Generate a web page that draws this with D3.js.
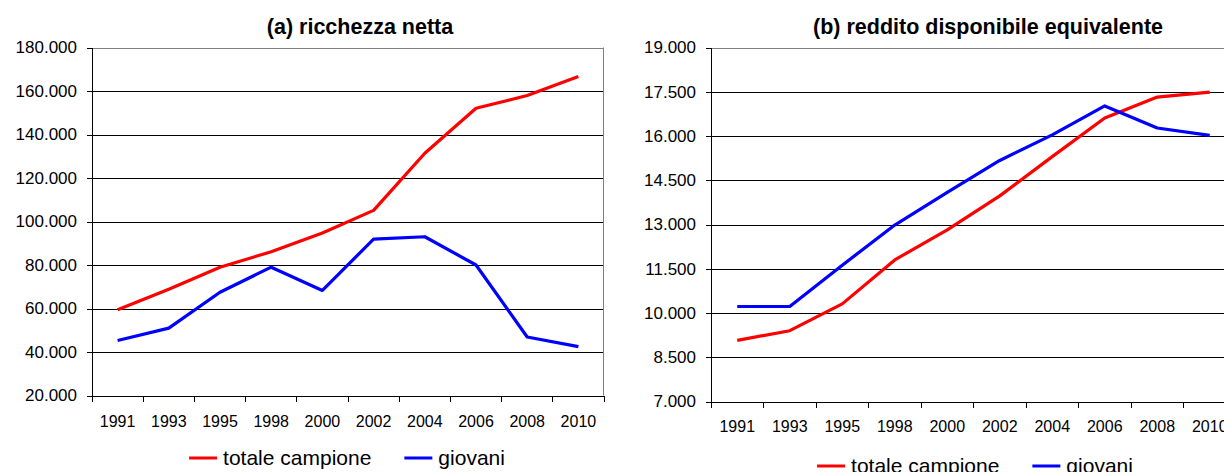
<!DOCTYPE html>
<html lang="en">
<head>
    <meta charset="UTF-8">
    <title>Ricchezza e reddito</title>
    <style>
        body { margin: 0; background: #fff; }
        svg { display: block; }
        text { font-family: "Liberation Sans", Arial, sans-serif; fill: #000; }
        .title { font-weight: bold; font-size: 21.5px; text-anchor: middle; }
        .y-axis text { font-size: 17px; }
        .x-axis text { font-size: 16px; }
        .legend text { font-size: 21px; }
        .grid line { stroke: #000; shape-rendering: crispEdges; }
        .series { fill: none; stroke-width: 3.2px; stroke-linejoin: round; }
    </style>
</head>
<body>
    <svg width="1224" height="472"></svg>

    <script src="https://d3js.org/d3.v7.min.js"></script>
    <script>
        // data
        const years = ["1991", "1993", "1995", "1998", "2000", "2002", "2004", "2006", "2008", "2010"];

        const ricchezzaTotale = [59400, 68900, 79000, 86100, 94700, 105100, 131400, 152100, 157900, 166700];
        const ricchezzaGiovani = [45300, 51000, 67500, 79000, 68300, 91900, 93000, 80000, 46900, 42500];
        const ricchezzaTicks = [20000, 40000, 60000, 80000, 100000, 120000, 140000, 160000, 180000];

        const redditoTotale = [9070, 9400, 10310, 11800, 12820, 13970, 15300, 16610, 17320, 17490];
        const redditoGiovani = [10220, 10220, 11620, 12980, 14090, 15170, 16040, 17020, 16270, 16020];
        const redditoTicks = [7000, 8500, 10000, 11500, 13000, 14500, 16000, 17500, 19000];

        const seriesNames = ["totale campione", "giovani"];
        const seriesColors = ["#ff0000", "#0000ff"];

        const itLocale = d3.formatLocale({ decimal: ",", thousands: ".", grouping: [3], currency: ["€", ""] });
        const fmt = itLocale.format(",.0f");

        const svg = d3.select("svg");

        function drawPanel(cfg) {
            const g = svg.append("g");

            const x = d3.scaleBand().domain(years).range([cfg.left, cfg.right]);
            const y = d3.scaleLinear().domain(cfg.domain).range([cfg.bottom, cfg.top]);

            // horizontal gridlines (top one is the grey plot border)
            g.append("g")
                .attr("class", "grid")
                .attr("transform", `translate(${cfg.left},0)`)
                .call(d3.axisLeft(y).tickValues(cfg.ticks).tickSize(-(cfg.right - cfg.left)).tickFormat(""))
                .call(s => s.select(".domain").remove())
                .call(s => s.selectAll(".tick").filter(d => d === cfg.domain[1]).select("line").style("stroke", "#808080"));

            // right border of the plot area
            g.append("line")
                .attr("x1", cfg.right - 0.5).attr("x2", cfg.right - 0.5)
                .attr("y1", cfg.top).attr("y2", cfg.bottom)
                .attr("stroke", "#808080");

            // y axis
            g.append("g")
                .attr("class", "y-axis")
                .attr("transform", `translate(${cfg.left},0)`)
                .call(d3.axisLeft(y).tickValues(cfg.ticks).tickSize(5).tickPadding(10).tickFormat(fmt))
                .call(s => s.selectAll("line, path").attr("stroke", "#000").attr("shape-rendering", "crispEdges"));

            // x axis: labels centred in each band, ticks on the band edges
            const xAxis = g.append("g")
                .attr("class", "x-axis")
                .attr("transform", `translate(0,${cfg.bottom})`)
                .call(d3.axisBottom(x).tickSize(0).tickPadding(cfg.xPad))
                .call(s => s.select(".domain").attr("stroke", "#000").attr("shape-rendering", "crispEdges"));

            xAxis.selectAll(".edge")
                .data(years.map(d => x(d)).concat([cfg.right]))
                .enter().append("line")
                .attr("class", "edge")
                .attr("x1", d => d).attr("x2", d => d)
                .attr("y1", 0).attr("y2", 6)
                .attr("stroke", "#000")
                .attr("shape-rendering", "crispEdges");

            // series lines
            const line = d3.line()
                .x((d, i) => x(years[i]) + x.bandwidth() / 2)
                .y(d => y(d));

            cfg.series.forEach((values, i) => {
                g.append("path")
                    .datum(values)
                    .attr("class", "series")
                    .attr("stroke", seriesColors[i])
                    .attr("d", line);
            });

            // title
            g.append("text")
                .attr("class", "title")
                .attr("x", cfg.titleX)
                .attr("y", 34)
                .text(cfg.title);

            // legend, centred under the plot
            const legend = g.append("g").attr("class", "legend");
            let cursor = 0;
            seriesNames.forEach((name, i) => {
                const item = legend.append("g").attr("transform", `translate(${cursor},0)`);
                item.append("line")
                    .attr("x1", 0).attr("x2", 28)
                    .attr("y1", 0).attr("y2", 0)
                    .attr("stroke", seriesColors[i])
                    .attr("stroke-width", 3);
                const t = item.append("text")
                    .attr("x", 34)
                    .attr("dy", "0.35em")
                    .text(name);
                cursor += 34 + t.node().getComputedTextLength() + 33;
            });
            const legendWidth = cursor - 33;
            legend.attr("transform", `translate(${cfg.legendCx - legendWidth / 2},${cfg.legendY})`);
        }

        drawPanel({
            title: "(a) ricchezza netta",
            left: 92, right: 604, top: 47.5, bottom: 395.5,
            domain: [20000, 180000], ticks: ricchezzaTicks,
            series: [ricchezzaTotale, ricchezzaGiovani],
            xPad: 20, titleX: 360, legendCx: 347, legendY: 458
        });

        drawPanel({
            title: "(b) reddito disponibile equivalente",
            left: 711, right: 1236, top: 47.5, bottom: 401.5,
            domain: [7000, 19000], ticks: redditoTicks,
            series: [redditoTotale, redditoGiovani],
            xPad: 19, titleX: 988, legendCx: 975, legendY: 466
        });
    </script>
</body>
</html>
